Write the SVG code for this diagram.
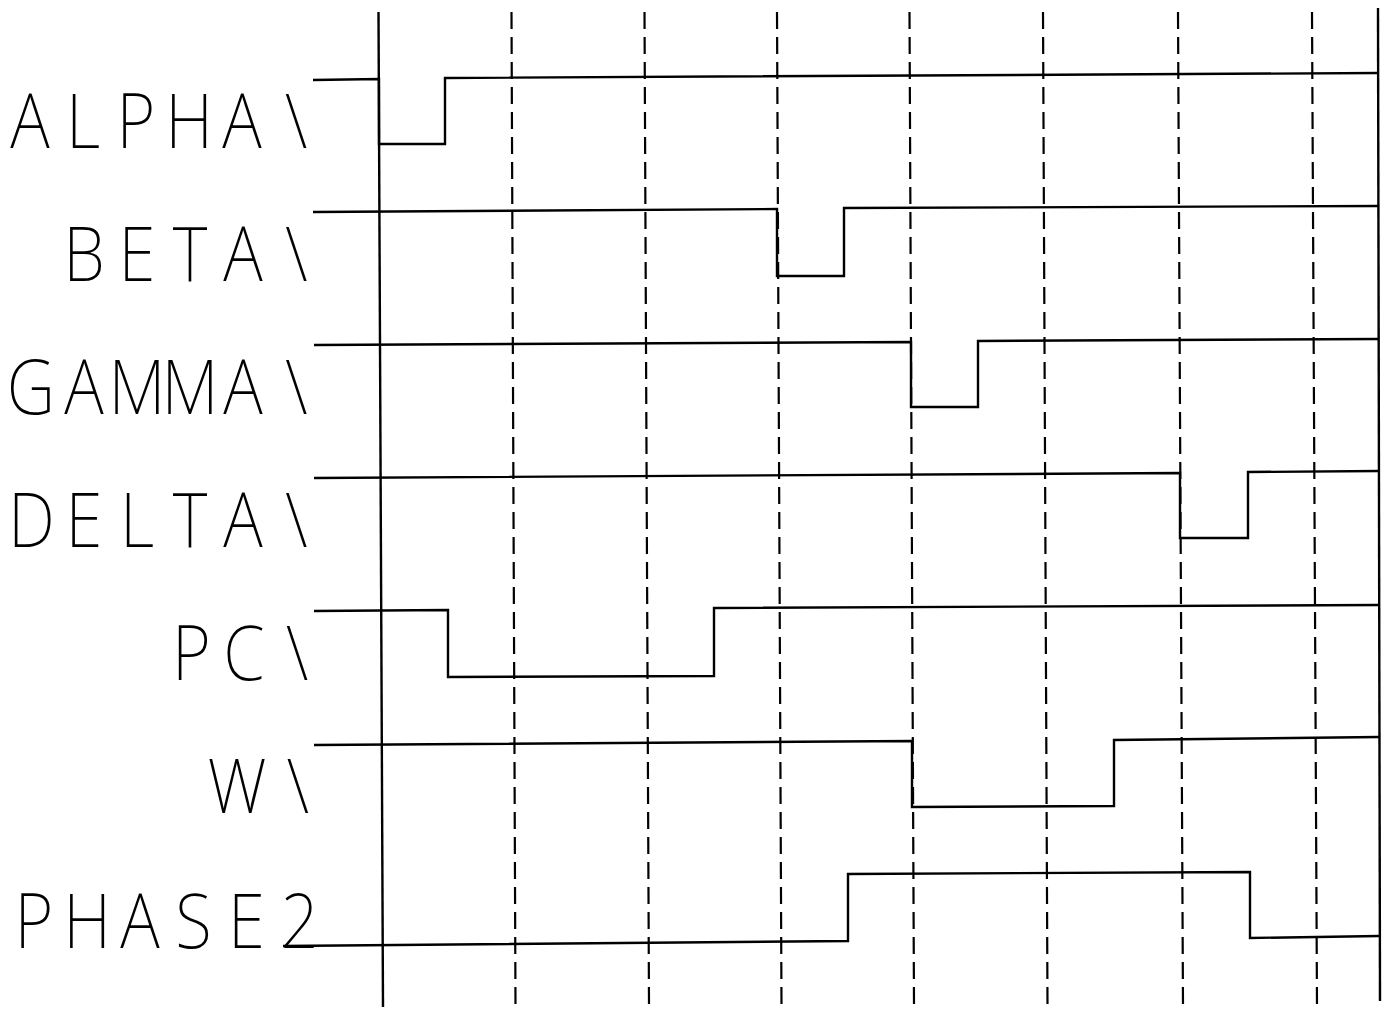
<svg xmlns="http://www.w3.org/2000/svg" width="1392" height="1009" viewBox="0 0 1392 1009">
<style>
.sig{fill:none;stroke:#000;stroke-width:2.4;stroke-linejoin:miter}
.axis{stroke:#000;stroke-width:2.4;fill:none}
.dash{stroke:#000;stroke-width:2.2;stroke-dasharray:17 8;fill:none}
.lbl{font-family:"Noto Sans","Liberation Sans",sans-serif;font-weight:200;font-size:76px;fill:#000;text-anchor:middle}
</style>
<rect width="1392" height="1009" fill="#fff"/>
<g id="grid">
<line class="axis" x1="378.5" y1="12" x2="383" y2="1007"/>
<line class="axis" x1="1378" y1="8" x2="1380" y2="1001"/>
<line class="dash" x1="511.5" y1="12" x2="515.5" y2="1006"/>
<line class="dash" x1="644.5" y1="12" x2="649" y2="1006"/>
<line class="dash" x1="777" y1="12" x2="781.5" y2="1006"/>
<line class="dash" x1="909.5" y1="12" x2="914" y2="1006"/>
<line class="dash" x1="1043" y1="12" x2="1047.5" y2="1006"/>
<line class="dash" x1="1178" y1="12" x2="1183" y2="1006"/>
<line class="dash" x1="1312" y1="12" x2="1317" y2="1006"/>
</g>
<g id="connectors">
<polyline id="w-alpha" class="sig" points="313,80 379,79 379,144 445,144 445,78 1379,73"/>
<polyline id="w-beta" class="sig" points="313,212 777,209 777,276 844,276 844,208 1379,206"/>
<polyline id="w-gamma" class="sig" points="314,345 911,342 911,407 978,407 978,341 1379,339"/>
<polyline id="w-delta" class="sig" points="314,478 1180,473 1180,538 1248,538 1248,472 1379,471"/>
<polyline id="w-pc" class="sig" points="314,611 448,610 448,677 714,676 714,608 1379,605"/>
<polyline id="w-w" class="sig" points="314,745 912,741 912,807 1114,806 1114,740 1379,737"/>
<polyline id="w-phase2" class="sig" points="283,946 848,941 848,874 1250,872 1250,938 1379,936"/>
</g>
<g id="labels" transform="scale(0.88,1)">
<g id="alpha"><text class="lbl" x="34.1 94.3 154.5 214.8 275 336.4" y="148">ALPHA\</text></g>
<g id="beta"><text class="lbl" x="95.5 155.7 215.9 276.1 336.9" y="281">BETA\</text></g>
<g id="gamma"><text class="lbl" x="35.2 95.5 155.7 215.9 276.1 336.9" y="414">GAMMA\</text></g>
<g id="delta"><text class="lbl" x="35.8 95.5 155.7 215.9 276.1 336.9" y="547">DELTA\</text></g>
<g id="pc"><text class="lbl" x="217.6 277.3 337.5" y="680">PC\</text></g>
<g id="w"><text class="lbl" x="269.3 338.6" y="813">W\</text></g>
<g id="phase2"><text class="lbl" x="38.6 98.9 159.1 219.9 280.1 340.3" y="948">PHASE2</text></g>
</g>
</svg>
